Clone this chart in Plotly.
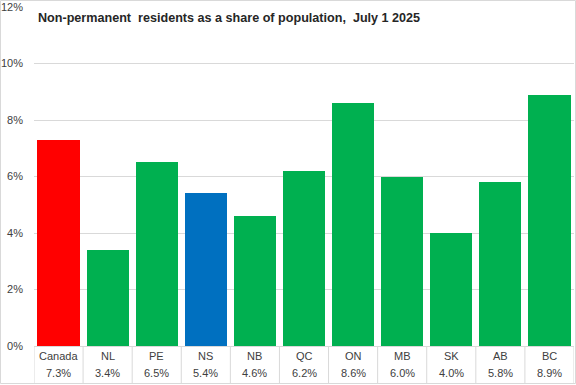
import plotly.graph_objects as go

categories = ["Canada", "NL", "PE", "NS", "NB", "QC", "ON", "MB", "SK", "AB", "BC"]
values = [7.3, 3.4, 6.5, 5.4, 4.6, 6.2, 8.6, 6.0, 4.0, 5.8, 8.9]
colors = ["#FF0000", "#00B050", "#00B050", "#0070C0", "#00B050", "#00B050",
          "#00B050", "#00B050", "#00B050", "#00B050", "#00B050"]
y_ticks = [0, 2, 4, 6, 8, 10, 12]
y_tick_labels = ["0%", "2%", "4%", "6%", "8%", "10%", "12%"]
title = "Non-permanent  residents as a share of population,  July 1 2025"

W, H = 576, 385
L, R, T, B = 34, 2, 7, 39
pw, ph = W - L - R, H - T - B

fig = go.Figure(go.Bar(x=list(range(len(categories))), y=values,
                       marker=dict(color=colors, line=dict(width=0)),
                       width=0.86, hoverinfo="skip"))

shapes = []
n = len(categories)
for i in range(n + 1):
    shapes.append(dict(type="line", xref="x", yref="paper", x0=i - 0.5, x1=i - 0.5,
                       y0=0, y1=-37 / ph, line=dict(color="#D9D9D9", width=1)))
# chart border
shapes.append(dict(type="rect", xref="paper", yref="paper",
                   x0=(0.5 - L) / pw, x1=(W - 0.5 - L) / pw,
                   y0=-(B - 1.5) / ph, y1=(ph + T - 0.5) / ph,
                   line=dict(color="#D9D9D9", width=1)))

annotations = []
for i, (c, v) in enumerate(zip(categories, values)):
    annotations.append(dict(x=i, y=-10 / ph, xref="x", yref="paper", text=c,
                            showarrow=False, yanchor="middle",
                            font=dict(size=11, color="#404040")))
    annotations.append(dict(x=i, y=-27 / ph, xref="x", yref="paper", text=f"{v:.1f}%",
                            showarrow=False, yanchor="middle",
                            font=dict(size=11, color="#404040")))
annotations.append(dict(x=2 / pw, y=(ph - 11) / ph, xref="paper", yref="paper",
                        text="<b>" + title + "</b>", showarrow=False, xanchor="left",
                        yanchor="middle",
                        font=dict(size=12.6, color="#262626", family="Liberation Sans, Arial, sans-serif")))

fig.update_layout(
    width=W, height=H, margin=dict(l=L, r=R, t=T, b=B),
    paper_bgcolor="white", plot_bgcolor="white",
    showlegend=False, bargap=0,
    font=dict(family="Liberation Sans, Arial, sans-serif", size=11, color="#404040"),
    xaxis=dict(range=[-0.5, n - 0.5], showticklabels=False, showgrid=False,
               zeroline=False, showline=True, linecolor="#D9D9D9", ticks=""),
    yaxis=dict(range=[0, 12], tickvals=y_ticks, ticktext=y_tick_labels,
               showgrid=True, gridcolor="#D9D9D9", zeroline=False,
               ticks="", tickfont=dict(size=11, color="#404040"), ticklabelstandoff=10),
    shapes=shapes, annotations=annotations,
)
fig.write_html("out.html", config={"displayModeBar": False, "staticPlot": True},
               post_script="document.body.style.margin='0';document.body.style.overflow='hidden';")
